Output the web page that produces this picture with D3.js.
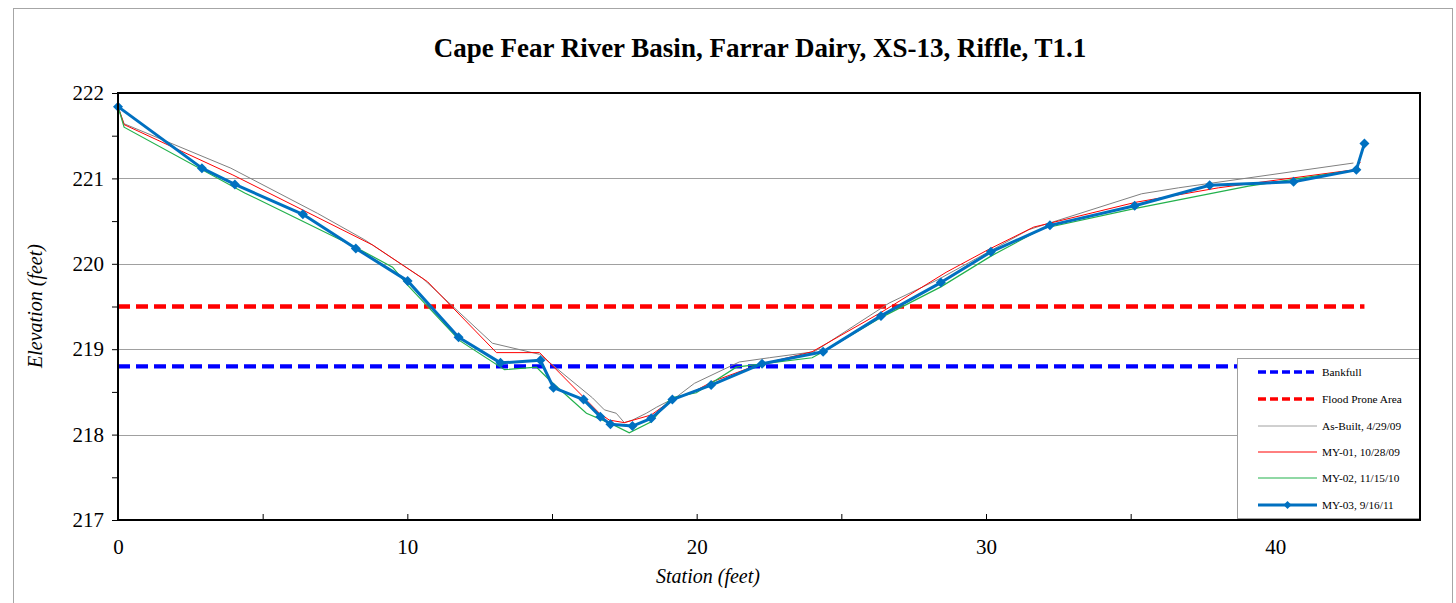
<!DOCTYPE html>
<html><head><meta charset="utf-8">
<script src="https://cdn.jsdelivr.net/npm/d3@7"></script>
<style>
body{margin:0;background:#fff}
svg{display:block}
text{font-family:"Liberation Serif","Times New Roman",serif;fill:#000}
</style>
</head><body>
<svg id="c" width="1456" height="603"></svg>
<script>
// ---------- data ----------
const chartTitle = "Cape Fear River Basin, Farrar Dairy, XS-13, Riffle, T1.1";
const xTitle = "Station (feet)";
const yTitle = "Elevation (feet)";
const xTickValues = [0, 5, 10, 15, 20, 25, 30, 35, 40];
const xTickLabels = ["0", "", "10", "", "20", "", "30", "", "40"];
const yTickValues = [217, 217.5, 218, 218.5, 219, 219.5, 220, 220.5, 221, 221.5, 222];
const yTickLabels = ["217", "", "218", "", "219", "", "220", "", "221", "", "222"];
const gridValues = [218, 219, 220, 221];

const seriesNames = ["Bankfull", "Flood Prone Area", "As-Built, 4/29/09", "MY-01, 10/28/09", "MY-02, 11/15/10", "MY-03, 9/16/11"];

const bankfullStation = [0, 43.08];
const bankfullElev = [218.8, 218.8];
const floodStation = [0, 43.08];
const floodElev = [219.5, 219.5];

const asBuiltStation = [0, 0.21, 3.90, 6.90, 8.53, 10.53, 12.94, 14.57, 16.40, 16.81, 17.22, 17.50, 17.78, 18.26, 18.61, 19.30, 19.92, 21.47, 22.51, 24.06, 26.65, 28.37, 31.48, 35.38, 36.66, 42.70];
const asBuiltElev    = [221.84, 221.64, 221.12, 220.59, 220.28, 219.83, 219.07, 218.94, 218.43, 218.29, 218.25, 218.14, 218.17, 218.25, 218.32, 218.44, 218.60, 218.85, 218.90, 218.97, 219.54, 219.82, 220.40, 220.82, 220.89, 221.18];

const my01Station = [0, 0.21, 3.97, 8.80, 10.70, 13.08, 14.57, 16.64, 16.98, 17.50, 18.43, 19.16, 19.99, 20.54, 22.06, 23.99, 26.37, 28.62, 30.10, 31.65, 35.17, 38.04, 42.70, 42.94];
const my01Elev    = [221.84, 221.63, 221.04, 220.22, 219.79, 218.96, 218.96, 218.25, 218.17, 218.14, 218.23, 218.41, 218.52, 218.62, 218.81, 218.97, 219.43, 219.90, 220.17, 220.43, 220.72, 220.89, 221.10, 221.19];

const my02Station = [0, 0.21, 4.38, 8.18, 9.49, 10.01, 11.81, 13.36, 14.46, 14.91, 16.19, 17.09, 17.67, 18.43, 19.12, 19.99, 21.37, 21.57, 23.99, 24.37, 26.37, 28.44, 30.17, 31.93, 35.17, 39.07, 42.80];
const my02Elev    = [221.84, 221.60, 220.83, 220.20, 219.96, 219.75, 219.10, 218.76, 218.79, 218.64, 218.25, 218.12, 218.02, 218.15, 218.43, 218.49, 218.79, 218.80, 218.90, 218.97, 219.37, 219.73, 220.09, 220.41, 220.65, 220.91, 221.10];

const my03Station = [0, 2.90, 4.04, 6.39, 8.22, 10.01, 11.77, 13.22, 14.60, 15.05, 16.09, 16.67, 17.02, 17.78, 18.43, 19.16, 20.50, 22.26, 24.37, 26.37, 28.44, 30.17, 32.21, 35.14, 37.73, 40.63, 42.80, 43.08];
const my03Elev    = [221.84, 221.12, 220.93, 220.58, 220.18, 219.80, 219.14, 218.84, 218.87, 218.55, 218.41, 218.21, 218.12, 218.10, 218.19, 218.41, 218.58, 218.83, 218.97, 219.39, 219.78, 220.14, 220.45, 220.68, 220.92, 220.96, 221.10, 221.41];

// ---------- layout ----------
const svg = d3.select("#c");
const L = 118, R = 1420, T = 93, B = 520;
const x = d3.scaleLinear().domain([0, 45]).range([L, R]);
const y = d3.scaleLinear().domain([217, 222]).range([B, T]);

svg.append("rect").attr("width", 1456).attr("height", 603).attr("fill", "#fff");
// outer chart frame
svg.append("rect").attr("x", 13.5).attr("y", 8.5).attr("width", 1439).attr("height", 620)
  .attr("fill", "none").attr("stroke", "#a6a6a6").attr("stroke-width", 1);

// gridlines
svg.append("g").selectAll("line").data(gridValues).join("line")
  .attr("x1", L).attr("x2", R).attr("y1", d => Math.round(y(d)) + 0.5).attr("y2", d => Math.round(y(d)) + 0.5)
  .attr("stroke", "#a0a0a0").attr("stroke-width", 1);

// title
svg.append("text").attr("x", 760).attr("y", 57).attr("text-anchor", "middle")
  .attr("font-size", 27).attr("font-weight", "bold").text(chartTitle);

// y axis
const yAxis = d3.axisLeft(y).tickValues(yTickValues).tickSize(6).tickPadding(8)
  .tickFormat((d, i) => yTickLabels[i]);
const gy = svg.append("g").attr("transform", `translate(${L},0)`).call(yAxis);
gy.select(".domain").remove();
gy.selectAll("line").attr("stroke", "#000");
gy.selectAll("text").attr("font-size", 21).attr("font-family", "Liberation Serif");

// x axis
const xAxis = d3.axisBottom(x).tickValues(xTickValues).tickSizeInner(-6).tickSizeOuter(0).tickPadding(19)
  .tickFormat((d, i) => xTickLabels[i]);
const gx = svg.append("g").attr("transform", `translate(0,${B})`).call(xAxis);
gx.select(".domain").remove();
gx.selectAll("line").attr("stroke", "#000");
gx.selectAll("text").attr("font-size", 21).attr("font-family", "Liberation Serif");

// axis titles
svg.append("text").attr("x", 708).attr("y", 583).attr("text-anchor", "middle")
  .attr("font-size", 20).attr("font-style", "italic").text(xTitle);
svg.append("text").attr("transform", `translate(42,306) rotate(-90)`).attr("text-anchor", "middle")
  .attr("font-size", 20).attr("font-style", "italic").text(yTitle);

// series
const line = d3.line().x(d => x(d[0])).y(d => y(d[1]));
const zip = (a, b) => a.map((v, i) => [v, b[i]]);

const plot = svg.append("g");
plot.append("path").datum(zip(bankfullStation, bankfullElev)).attr("d", line)
  .attr("fill", "none").attr("stroke", "#0000ff").attr("stroke-width", 4.3).attr("stroke-dasharray", "12,6");
plot.append("path").datum(zip(floodStation, floodElev)).attr("d", line)
  .attr("fill", "none").attr("stroke", "#ff0000").attr("stroke-width", 4.3).attr("stroke-dasharray", "12,6");
plot.append("path").datum(zip(asBuiltStation, asBuiltElev)).attr("d", line)
  .attr("fill", "none").attr("stroke", "#808080").attr("stroke-width", 1);
plot.append("path").datum(zip(my01Station, my01Elev)).attr("d", line)
  .attr("fill", "none").attr("stroke", "#ff0000").attr("stroke-width", 1);
plot.append("path").datum(zip(my02Station, my02Elev)).attr("d", line)
  .attr("fill", "none").attr("stroke", "#22b14c").attr("stroke-width", 1.2);
const my03 = zip(my03Station, my03Elev);
plot.append("path").datum(my03).attr("d", line)
  .attr("fill", "none").attr("stroke", "#0070c0").attr("stroke-width", 3).attr("stroke-linejoin", "round");
const diamond = "M0,-5L5,0L0,5L-5,0Z";
plot.selectAll("path.mk").data(my03).join("path").attr("class", "mk")
  .attr("d", diamond).attr("transform", d => `translate(${x(d[0])},${y(d[1])})`)
  .attr("fill", "#0070c0");

// plot border
svg.append("rect").attr("x", L).attr("y", T).attr("width", R - L).attr("height", B - T)
  .attr("fill", "none").attr("stroke", "#000").attr("stroke-width", 2);

// legend
const lg = svg.append("g");
lg.append("rect").attr("x", 1237.5).attr("y", 358.5).attr("width", 183).attr("height", 160)
  .attr("fill", "#fff").attr("stroke", "#a0a0a0").attr("stroke-width", 1);
svg.append("line").attr("x1", R).attr("x2", R).attr("y1", 358).attr("y2", B).attr("stroke", "#000").attr("stroke-width", 2);
const legY = [372, 399, 426, 452, 478, 505];
const legStyles = [
  {c: "#0000ff", w: 3.5, dash: "8,4"},
  {c: "#ff0000", w: 3.5, dash: "8,4"},
  {c: "#a0a0a0", w: 1, dash: null},
  {c: "#ff0000", w: 1, dash: null},
  {c: "#22b14c", w: 1.2, dash: null},
  {c: "#0070c0", w: 3, dash: null}
];
seriesNames.forEach((n, i) => {
  const s = legStyles[i];
  const ln = lg.append("line").attr("x1", 1258).attr("x2", 1317).attr("y1", legY[i]).attr("y2", legY[i])
    .attr("stroke", s.c).attr("stroke-width", s.w);
  if (s.dash) ln.attr("stroke-dasharray", s.dash);
  lg.append("text").attr("x", 1322).attr("y", legY[i] + 4).attr("font-size", 11.3).text(n);
});
lg.append("path").attr("d", "M0,-4L4,0L0,4L-4,0Z").attr("transform", `translate(1287.5,${legY[5]})`).attr("fill", "#0070c0");
</script>
</body></html>
